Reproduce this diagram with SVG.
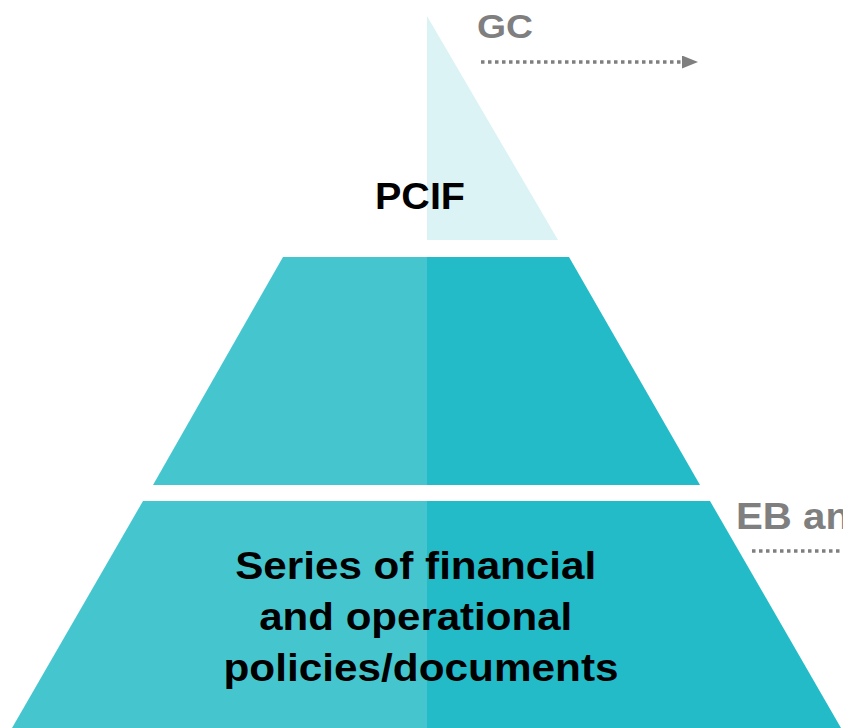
<svg xmlns="http://www.w3.org/2000/svg" width="843" height="728" viewBox="0 0 843 728">
<defs>
<style>
.light{fill:#45c6cf}
.dark{fill:#23bbc8}
.pale{fill:#dcf3f6}
.lbl{font-family:"Liberation Sans",Arial,sans-serif;font-weight:bold;fill:#000}
.side{font-family:"Liberation Sans",Arial,sans-serif;font-weight:bold;fill:#7f7f7f}
.dots{stroke:#7f7f7f;stroke-width:3.5;stroke-dasharray:3.5 3.5;fill:none}
</style>
<marker id="ah" markerWidth="16" markerHeight="13" refX="0" refY="6.5" orient="auto" markerUnits="userSpaceOnUse" viewBox="0 0 16 13">
<path d="M0,0 L16,6.5 L0,13 Z" fill="#7f7f7f"/>
</marker>
</defs>
<rect width="843" height="728" fill="#fff"/>
<g id="top">
<polygon class="pale" points="427,16 558,240 427,240"/>
<text class="lbl" x="420" y="209" font-size="36" text-anchor="middle" textLength="90" lengthAdjust="spacingAndGlyphs">PCIF</text>
</g>
<g id="middle">
<polygon class="light" points="283,257 427,257 427,485 153,485"/>
<polygon class="dark" points="427,257 569,257 700,485 427,485"/>
</g>
<g id="bottom">
<polygon class="light" points="143,501 427,501 427,728 12,728"/>
<polygon class="dark" points="427,501 710,501 841,728 427,728"/>
<text class="lbl" font-size="38" text-anchor="middle">
<tspan x="421" y="579" textLength="361" lengthAdjust="spacingAndGlyphs">Series of financial</tspan>
<tspan x="421" y="630" textLength="313" lengthAdjust="spacingAndGlyphs">and operational</tspan>
<tspan x="421" y="681" textLength="395" lengthAdjust="spacingAndGlyphs">policies/documents</tspan>
</text>
</g>
<g id="gc">
<text class="side" x="477" y="38" font-size="34" textLength="56" lengthAdjust="spacingAndGlyphs">GC</text>
</g>
<g id="eb">
<text class="side" x="736" y="529" font-size="37" textLength="114" lengthAdjust="spacingAndGlyphs">EB an</text>
</g>
<g id="connectors">
<path class="dots" d="M481,62 H682" marker-end="url(#ah)"/>
<line class="dots" x1="752" y1="551" x2="843" y2="551"/>
</g>
</svg>
